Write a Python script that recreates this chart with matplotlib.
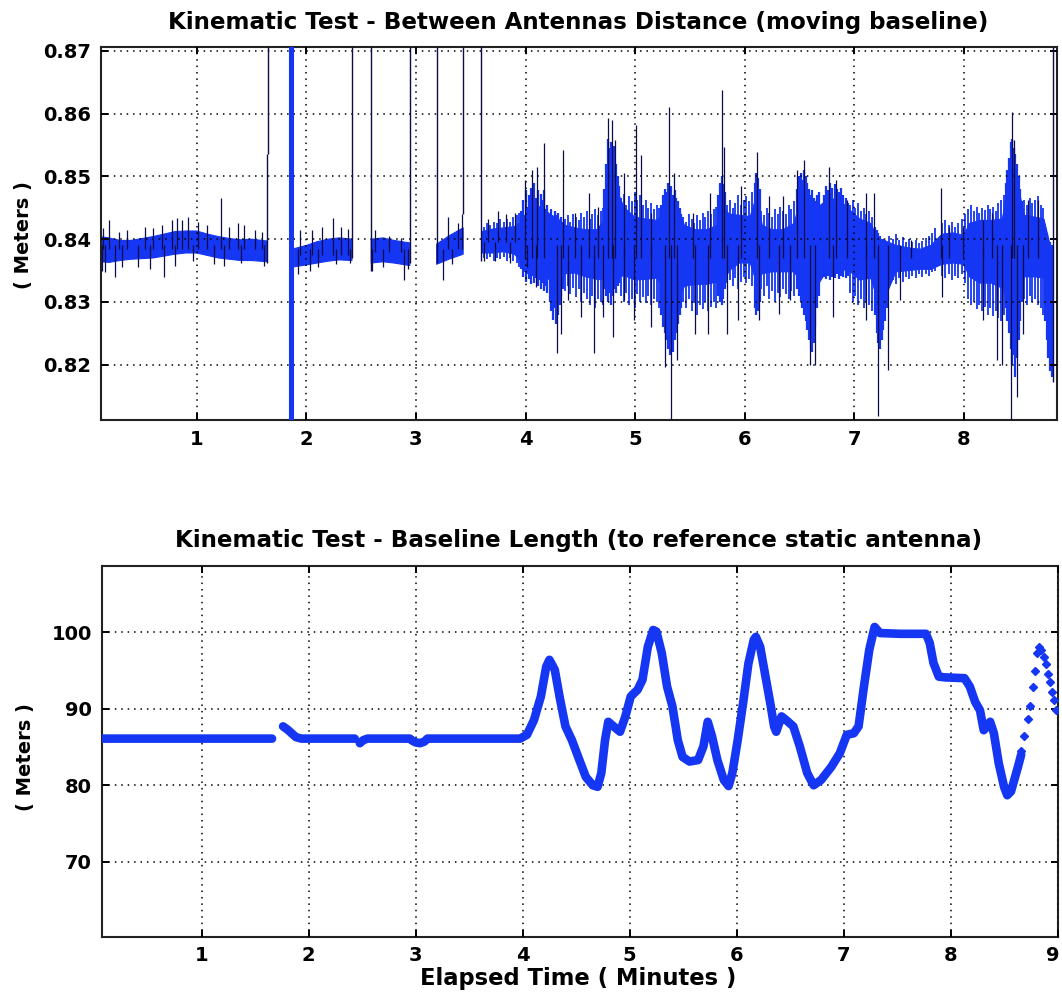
import numpy as np
import matplotlib
matplotlib.use("Agg")
import matplotlib.pyplot as plt
import matplotlib.transforms as mtransforms

plt.rcParams['font.family'] = ['DejaVu Sans']
plt.rcParams['font.weight'] = 'bold'

nan = np.nan

# ---------------- top panel: distance between the two antennas ----------------
# solid core of the noisy trace: lower / upper edge over time (NaN = no solution)
dist_t = [0.12, 0.2, 0.3, 0.4, 0.5, 0.6, 0.7, 0.8, 0.9, 1.0, 1.1, 1.2, 1.3, 1.4, 1.5, 1.645, nan,
          1.89, 2.0, 2.1, 2.2, 2.3, 2.416, nan,
          2.592, 2.7, 2.8, 2.944, nan,
          3.189, 3.3, 3.431, nan,
          3.6, 3.7, 3.8, 3.9, 3.97, 4.05, 4.15, 4.22, 4.3, 4.36, 4.45, 4.55, 4.65, 4.72, 4.78,
          4.83, 4.9, 5.0, 5.1, 5.2, 5.27, 5.33, 5.4, 5.45, 5.55, 5.65, 5.75, 5.8, 5.86, 5.95,
          6.05, 6.11, 6.16, 6.25, 6.35, 6.45, 6.52, 6.6, 6.66, 6.75, 6.85, 6.95, 7.05, 7.15,
          7.22, 7.3, 7.38, 7.5, 7.6, 7.7, 7.8, 7.9, 8.0, 8.05, 8.15, 8.25, 8.35, 8.4, 8.45,
          8.5, 8.55, 8.65, 8.73, 8.78, 8.815]
dist_lo = [0.8364, 0.8363, 0.8366, 0.8368, 0.8369, 0.8370, 0.8373, 0.8376, 0.8378, 0.8378, 0.8374,
           0.8370, 0.8368, 0.8366, 0.8366, 0.8364, nan,
           0.8356, 0.8359, 0.8362, 0.8365, 0.8367, 0.8366, nan,
           0.8362, 0.8364, 0.8362, 0.8358, nan,
           0.8360, 0.8368, 0.8376, nan,
           0.8378, 0.8378, 0.8380, 0.8376, 0.8362, 0.8352, 0.8345, 0.8335, 0.8330, 0.8345, 0.8346,
           0.8340, 0.8336, 0.8335, 0.8335, 0.8338, 0.8342, 0.8335, 0.8336, 0.8338, 0.8320, 0.8295,
           0.8305, 0.8325, 0.8328, 0.8328, 0.8332, 0.8330, 0.8350, 0.8362, 0.8362, 0.8330, 0.8345,
           0.8348, 0.8348, 0.8348, 0.8330, 0.8300, 0.8325, 0.8350, 0.8352, 0.8350, 0.8335, 0.8338,
           0.8300, 0.8315, 0.8348, 0.8350, 0.8352, 0.8352, 0.8360, 0.8362, 0.8360, 0.8340, 0.8330,
           0.8330, 0.8322, 0.8300, 0.8280, 0.8300, 0.8340, 0.8340, 0.8338, 0.8290, 0.8250]
dist_hi = [0.8404, 0.8402, 0.8398, 0.8398, 0.8401, 0.8404, 0.8408, 0.8412, 0.8413, 0.8413, 0.8408,
           0.8404, 0.8401, 0.8399, 0.8400, 0.8397, nan,
           0.8385, 0.8390, 0.8396, 0.8400, 0.8402, 0.8400, nan,
           0.8400, 0.8402, 0.8398, 0.8394, nan,
           0.8392, 0.8405, 0.8418, nan,
           0.8412, 0.8416, 0.8418, 0.8420, 0.8428, 0.8450, 0.8452, 0.8440, 0.8432, 0.8422, 0.8418,
           0.8415, 0.8415, 0.8430, 0.8490, 0.8480, 0.8450, 0.8435, 0.8432, 0.8430, 0.8440, 0.8455,
           0.8448, 0.8422, 0.8415, 0.8415, 0.8422, 0.8450, 0.8440, 0.8438, 0.8436, 0.8470, 0.8422,
           0.8415, 0.8415, 0.8425, 0.8470, 0.8468, 0.8450, 0.8462, 0.8465, 0.8448, 0.8432, 0.8425,
           0.8398, 0.8396, 0.8390, 0.8386, 0.8384, 0.8390, 0.8408, 0.8410, 0.8406, 0.8425, 0.8430,
           0.8430, 0.8432, 0.8480, 0.8520, 0.8480, 0.8438, 0.8435, 0.8432, 0.8395, 0.8380]

# bursts of larger scatter: blue needles around the core
burst_t = [3.96, 3.975, 3.99, 4.005, 4.02, 4.035, 4.05, 4.065, 4.08, 4.095, 4.11, 4.125, 4.14,
           4.155, 4.17, 4.185, 4.2,
           4.22, 4.235, 4.25, 4.265, 4.28, 4.295, 4.31, 4.325, 4.34,
           4.72, 4.735, 4.75, 4.765, 4.78, 4.795, 4.81, 4.825, 4.84, 4.855,
           5.24, 5.255, 5.27, 5.285, 5.30, 5.315, 5.33, 5.345, 5.36, 5.375, 5.39, 5.405, 5.42,
           5.76, 5.775, 5.79, 5.805, 5.82,
           6.09, 6.105, 6.12, 6.135,
           6.48, 6.495, 6.51, 6.525, 6.54, 6.555, 6.57, 6.585, 6.60, 6.615, 6.63, 6.645, 6.66, 6.675,
           6.72, 6.74, 6.76, 6.78, 6.80, 6.82, 6.84, 6.86, 6.88, 6.90, 6.92, 6.94,
           7.19, 7.205, 7.22, 7.235, 7.25, 7.265, 7.28, 7.295,
           8.38, 8.395, 8.41, 8.425, 8.44, 8.455, 8.47, 8.485, 8.50, 8.515, 8.53,
           8.74, 8.755, 8.77, 8.785, 8.80]
burst_lo = [0.8352, 0.8340, 0.8348, 0.8332, 0.8345, 0.8336, 0.8328, 0.8342, 0.8330, 0.8338, 0.8325,
            0.8335, 0.8320, 0.8330, 0.8318, 0.8325, 0.8315,
            0.8300, 0.8285, 0.8272, 0.8290, 0.8265, 0.8280, 0.8295, 0.8310, 0.8320,
            0.8320, 0.8310, 0.8300, 0.8315, 0.8295, 0.8310, 0.8320, 0.8315, 0.8325, 0.8330,
            0.8280, 0.8260, 0.8250, 0.8240, 0.8225, 0.8215, 0.8230, 0.8220, 0.8240, 0.8250, 0.8265,
            0.8280, 0.8290,
            0.8310, 0.8300, 0.8295, 0.8305, 0.8320,
            0.8290, 0.8280, 0.8285, 0.8300,
            0.8320, 0.8310, 0.8300, 0.8290, 0.8280, 0.8270, 0.8255, 0.8240, 0.8225, 0.8220, 0.8235,
            0.8260, 0.8290, 0.8310,
            0.8340, 0.8336, 0.8342, 0.8335, 0.8340, 0.8338, 0.8344, 0.8336, 0.8342, 0.8340, 0.8338,
            0.8342,
            0.8280, 0.8250, 0.8235, 0.8225, 0.8240, 0.8255, 0.8270, 0.8290,
            0.8290, 0.8270, 0.8250, 0.8225, 0.8200, 0.8215, 0.8180, 0.8210, 0.8240, 0.8270, 0.8300,
            0.8270, 0.8240, 0.8210, 0.8190, 0.8180]
burst_hi = [0.8445, 0.8462, 0.8438, 0.8478, 0.8452, 0.8470, 0.8482, 0.8458, 0.8490, 0.8466, 0.8478,
            0.8450, 0.8472, 0.8462, 0.8478, 0.8448, 0.8455,
            0.8440, 0.8448, 0.8435, 0.8445, 0.8438, 0.8442, 0.8430, 0.8435, 0.8428,
            0.8480, 0.8520, 0.8560, 0.8545, 0.8555, 0.8530, 0.8548, 0.8520, 0.8500, 0.8485,
            0.8455, 0.8470, 0.8480, 0.8475, 0.8490, 0.8478, 0.8485, 0.8470, 0.8478, 0.8465, 0.8460,
            0.8450, 0.8440,
            0.8470, 0.8490, 0.8500, 0.8488, 0.8475,
            0.8490, 0.8505, 0.8498, 0.8480,
            0.8480, 0.8500, 0.8505, 0.8495, 0.8510, 0.8500, 0.8490, 0.8480, 0.8470, 0.8478, 0.8465,
            0.8460, 0.8470, 0.8475,
            0.8470, 0.8485, 0.8478, 0.8490, 0.8482, 0.8488, 0.8480, 0.8475, 0.8482, 0.8470, 0.8465,
            0.8458,
            0.8420, 0.8415, 0.8410, 0.8405, 0.8400, 0.8400, 0.8398, 0.8396,
            0.8490, 0.8510, 0.8530, 0.8555, 0.8560, 0.8545, 0.8535, 0.8520, 0.8500, 0.8480, 0.8460,
            0.8420, 0.8410, 0.8400, 0.8395, 0.8390]

# ordinary scatter between the bursts: shorter blue needles
scat_t = [3.62, 3.65, 3.68, 3.71, 3.74, 3.77, 3.80, 3.83, 3.86, 3.89, 3.92, 3.945,
          4.36, 4.385, 4.41, 4.435, 4.46, 4.485, 4.51, 4.535, 4.56, 4.585, 4.61, 4.635, 4.66, 4.685,
          4.71,
          4.87, 4.895, 4.92, 4.945, 4.97, 4.995, 5.02, 5.045, 5.07, 5.095, 5.12, 5.145, 5.17, 5.195,
          5.22,
          5.44, 5.465, 5.49, 5.515, 5.54, 5.565, 5.59, 5.615, 5.64, 5.665, 5.69, 5.715, 5.74,
          5.84, 5.865, 5.89, 5.915, 5.94, 5.965, 5.99, 6.015, 6.04, 6.065,
          6.15, 6.175, 6.20, 6.225, 6.25, 6.275, 6.30, 6.325, 6.35, 6.375, 6.40, 6.425, 6.45,
          6.96, 6.985, 7.01, 7.035, 7.06, 7.085, 7.11, 7.135, 7.16,
          7.32, 7.35, 7.38, 7.41, 7.44, 7.47, 7.50, 7.53, 7.56, 7.59, 7.62, 7.65, 7.68, 7.71, 7.74,
          7.80, 7.83, 7.86, 7.89, 7.92, 7.95, 7.98, 8.01,
          8.04, 8.065, 8.09, 8.115, 8.14, 8.165, 8.19, 8.215, 8.24, 8.265, 8.29, 8.315, 8.34, 8.365,
          8.55, 8.575, 8.60, 8.625, 8.65, 8.675, 8.70, 8.725]
scat_lo = [0.8370, 0.8368, 0.8372, 0.8366, 0.8370, 0.8368, 0.8372, 0.8366, 0.8370, 0.8365, 0.8362,
           0.8355,
           0.8318, 0.8325, 0.8312, 0.8322, 0.8308, 0.8320, 0.8300, 0.8315, 0.8305, 0.8295, 0.8310,
           0.8290, 0.8305, 0.8300, 0.8295,
           0.8310, 0.8300, 0.8315, 0.8295, 0.8305, 0.8290, 0.8312, 0.8300, 0.8308, 0.8298, 0.8310,
           0.8295, 0.8305, 0.8300, 0.8290,
           0.8300, 0.8290, 0.8305, 0.8285, 0.8298, 0.8280, 0.8295, 0.8288, 0.8300, 0.8285, 0.8292,
           0.8300, 0.8290,
           0.8330, 0.8335, 0.8325, 0.8338, 0.8320, 0.8332, 0.8340, 0.8330, 0.8336, 0.8325,
           0.8320, 0.8310, 0.8325, 0.8305, 0.8318, 0.8300, 0.8315, 0.8308, 0.8320, 0.8312, 0.8305,
           0.8318, 0.8310,
           0.8315, 0.8300, 0.8310, 0.8295, 0.8305, 0.8290, 0.8300, 0.8295, 0.8285,
           0.8330, 0.8335, 0.8328, 0.8338, 0.8332, 0.8340, 0.8336, 0.8342, 0.8338, 0.8344, 0.8340,
           0.8345, 0.8342, 0.8348, 0.8350,
           0.8342, 0.8338, 0.8345, 0.8335, 0.8342, 0.8338, 0.8345, 0.8330,
           0.8305, 0.8295, 0.8300, 0.8288, 0.8295, 0.8285, 0.8292, 0.8280, 0.8290, 0.8278, 0.8285,
           0.8275, 0.8270, 0.8280,
           0.8305, 0.8295, 0.8310, 0.8300, 0.8305, 0.8295, 0.8290, 0.8280]
scat_hi = [0.8420, 0.8425, 0.8422, 0.8428, 0.8425, 0.8432, 0.8428, 0.8432, 0.8428, 0.8435, 0.8438,
           0.8442,
           0.8432, 0.8438, 0.8428, 0.8440, 0.8435, 0.8430, 0.8442, 0.8436, 0.8445, 0.8432, 0.8440,
           0.8448, 0.8438, 0.8445, 0.8450,
           0.8465, 0.8472, 0.8455, 0.8468, 0.8460, 0.8475, 0.8462, 0.8470, 0.8455, 0.8462, 0.8450,
           0.8458, 0.8448, 0.8455, 0.8450,
           0.8435, 0.8428, 0.8440, 0.8432, 0.8425, 0.8438, 0.8430, 0.8442, 0.8435, 0.8445, 0.8440,
           0.8448, 0.8452,
           0.8455, 0.8462, 0.8450, 0.8458, 0.8470, 0.8455, 0.8462, 0.8468, 0.8460, 0.8475,
           0.8445, 0.8438, 0.8450, 0.8442, 0.8435, 0.8448, 0.8440, 0.8452, 0.8445, 0.8440, 0.8455,
           0.8448, 0.8460,
           0.8455, 0.8462, 0.8450, 0.8458, 0.8445, 0.8450, 0.8440, 0.8445, 0.8435,
           0.8405, 0.8400, 0.8408, 0.8398, 0.8403, 0.8396, 0.8400, 0.8395, 0.8398, 0.8394, 0.8397,
           0.8402, 0.8405, 0.8410, 0.8418,
           0.8425, 0.8430, 0.8422, 0.8428, 0.8420, 0.8426, 0.8432, 0.8440,
           0.8448, 0.8455, 0.8445, 0.8452, 0.8442, 0.8450, 0.8446, 0.8455, 0.8448, 0.8452, 0.8445,
           0.8458, 0.8462, 0.8470,
           0.8462, 0.8455, 0.8465, 0.8458, 0.8462, 0.8468, 0.8455, 0.8450]

# isolated outliers sticking out of the trace
spike_t = [0.148, 0.198, 0.289, 0.368, 0.525, 0.603, 0.682, 0.776, 0.823, 0.870, 0.917, 1.012,
           1.090, 1.219, 1.294, 1.373, 1.436, 1.530, 1.593,
           0.135, 0.166, 0.251, 0.320, 0.462, 0.575, 0.704, 0.800, 0.970, 1.155, 1.250, 1.400, 1.610,
           1.940, 2.050, 2.145, 2.246, 2.315, 2.380, 1.920, 2.030, 2.110, 2.270, 2.400,
           2.630, 2.750, 2.860, 2.600, 2.700, 2.890, 2.930,
           3.290, 3.380, 3.420, 3.250, 3.330,
           3.660, 3.750, 3.820, 3.900, 3.620, 3.720, 3.860,
           3.997, 4.060, 4.108, 4.171, 4.344, 4.455, 4.581, 4.660, 4.754, 4.786, 4.817, 4.896,
           5.006, 5.054, 5.148, 5.312, 5.353, 5.527, 5.684, 5.789, 5.810, 5.968, 6.110, 6.221,
           6.347, 6.473, 6.542, 6.772, 6.836, 6.930, 7.103, 7.182, 7.513, 7.791, 7.860, 7.987,
           8.176, 8.255, 8.434, 8.460, 8.586, 8.680,
           4.013, 4.092, 4.290, 4.322, 4.391, 4.502, 4.628, 4.707, 4.795, 4.896, 4.990, 5.148,
           5.274, 5.328, 5.385, 5.543, 5.669, 5.836, 5.937, 6.126, 6.315, 6.410, 6.599, 6.637,
           6.804, 7.103, 7.214, 7.309, 7.419, 7.797, 8.176, 8.302, 8.349, 8.428, 8.482, 8.538]
spike_lo = [0.8385] * 19 + \
           [0.8350, 0.8348, 0.8340, 0.8355, 0.8355, 0.8352, 0.8340, 0.8358, 0.8365, 0.8360, 0.8358,
            0.8362, 0.8357] + \
           [0.8375] * 6 + [0.8345, 0.8350, 0.8355, 0.8360, 0.8362] + \
           [0.8380] * 3 + [0.8350, 0.8355, 0.8335, 0.8352] + \
           [0.8385] * 3 + [0.8335, 0.8360] + \
           [0.8395] * 4 + [0.8365, 0.8365, 0.8362] + \
           [0.8370] * 42 + \
           [0.8356, 0.8324, 0.8218, 0.8249, 0.8303, 0.8276, 0.8218, 0.8276, 0.8244, 0.8303, 0.8271,
            0.8260, 0.8196, 0.8111, 0.8207, 0.8249, 0.8249, 0.8249, 0.8271, 0.8271, 0.8281, 0.8303,
            0.8199, 0.8199, 0.8276, 0.8271, 0.8119, 0.8191, 0.8303, 0.8308, 0.8271, 0.8207, 0.8199,
            0.8111, 0.8148, 0.8249]
spike_hi = [0.8418, 0.8430, 0.8412, 0.8415, 0.8420, 0.8418, 0.8422, 0.8430, 0.8434, 0.8430, 0.8436,
            0.8428, 0.8422, 0.8465, 0.8420, 0.8425, 0.8422, 0.8414, 0.8412] + \
           [0.8390] * 13 + \
           [0.8414, 0.8414, 0.8420, 0.8433, 0.8420, 0.8416] + [0.8385] * 5 + \
           [0.8414, 0.8405, 0.8402] + [0.8385] * 4 + \
           [0.8436, 0.8425, 0.8440] + [0.8385] * 2 + \
           [0.8432, 0.8445, 0.8440, 0.8442] + [0.8395] * 3 + \
           [0.8494, 0.8510, 0.8515, 0.8553, 0.8542, 0.8441, 0.8473, 0.8452, 0.8593, 0.8590, 0.8558,
            0.8505, 0.8582, 0.8534, 0.8441, 0.8611, 0.8505, 0.8441, 0.8473, 0.8638, 0.8547, 0.8484,
            0.8539, 0.8468, 0.8468, 0.8510, 0.8526, 0.8515, 0.8494, 0.8462, 0.8473, 0.8473, 0.8398,
            0.8481, 0.8420, 0.8420, 0.8430, 0.8441, 0.8603, 0.8558, 0.8462, 0.8462] + \
           [0.8390] * 36

# jumps of the trace to values far off the scale (lost / wrong fixes)
jump_t = [1.640, 1.655, 2.416, 2.592, 2.944, 3.189, 3.431, 3.597, 8.815]
jump_lo = [0.8362, 0.8536, 0.8370, 0.8350, 0.8362, 0.8362, 0.8440, 0.8365, 0.8172]
jump_hi = [0.8536, 0.8800, 0.8800, 0.8800, 0.8800, 0.8800, 0.8800, 0.8800, 0.8800]
# wrong fixes crossing the whole scale
cross_t = [1.848, 1.874]

# ---------------- bottom panel: baseline length to the static antenna ----------------
base_t = [0.05, 1.657, nan,
          1.76, 1.80, 1.84, 1.88, 1.93, 2.43, nan,
          2.478, 2.51, 2.55, 2.946, nan,
          2.96, 3.00, 3.04, 3.08, 3.11, 3.976, 4.04, 4.105, 4.17, 4.22, 4.25, 4.30, 4.35, 4.40,
          4.46, 4.53, 4.59, 4.655, 4.70, 4.735, 4.77, 4.80, 4.85, 4.91, 4.96, 5.01, 5.075, 5.12,
          5.17, 5.22, 5.25, 5.30, 5.35, 5.40, 5.45, 5.495, 5.56, 5.64, 5.69, 5.73, 5.77, 5.82,
          5.88, 5.925, 5.96, 6.01, 6.06, 6.11, 6.16, 6.18, 6.22, 6.27, 6.32, 6.35, 6.37, 6.42,
          6.465, 6.53, 6.59, 6.66, 6.72, 6.79, 6.885, 6.965, 7.03, 7.095, 7.14, 7.19, 7.24, 7.29,
          7.34, 7.53, 7.77, 7.805, 7.84, 7.89, 7.95, 8.13, 8.18, 8.23, 8.275, 8.31, 8.34, 8.37,
          8.405, 8.45, 8.50, 8.53, 8.565, 8.63, 8.66]
base_v = [86.1, 86.1, nan,
          87.7, 87.3, 86.8, 86.3, 86.1, 86.1, nan,
          85.5, 85.9, 86.1, 86.1, nan,
          85.9, 85.6, 85.5, 85.7, 86.1, 86.1, 86.6, 88.5, 91.6, 95.5, 96.4, 95.1, 91.2, 87.7,
          85.9, 83.3, 81.1, 80.0, 79.8, 81.6, 85.9, 88.3, 87.7, 87.0, 89.0, 91.6, 92.5, 93.8,
          98.1, 100.3, 100.1, 97.3, 92.9, 90.3, 85.9, 83.7, 83.1, 83.3, 85.1, 88.3, 86.4, 83.3,
          80.7, 79.9, 81.6, 85.9, 90.7, 95.9, 99.0, 99.4, 98.1, 94.2, 90.3, 87.7, 87.0, 89.0,
          88.5, 87.7, 85.1, 81.6, 80.0, 80.7, 82.4, 84.2, 86.6, 86.8, 87.7, 92.9, 97.7, 100.7,
          99.9, 99.8, 99.8, 98.6, 96.0, 94.2, 94.1, 94.0, 92.9, 90.9, 89.8, 87.2, 87.7, 88.3,
          86.8, 82.9, 79.8, 78.7, 79.2, 82.4, 84.0]
# last fast swing, where the individual fixes separate
tail_t = [8.66, 8.69, 8.72, 8.745, 8.77, 8.79, 8.81, 8.83, 8.85, 8.87, 8.89, 8.91, 8.93, 8.95,
          8.97, 8.99]
tail_v = [84.5, 86.4, 88.6, 90.3, 92.8, 95.0, 97.3, 98.1, 97.7, 96.8, 95.8, 94.5, 93.5, 92.2,
          91.1, 89.9]

top_ticks = [0.82, 0.83, 0.84, 0.85, 0.86, 0.87]
bot_ticks = [70, 80, 90, 100]
x_ticks_top = [1, 2, 3, 4, 5, 6, 7, 8]
x_ticks_bot = [1, 2, 3, 4, 5, 6, 7, 8, 9]

BLUE = '#1536f2'
DARK = '#0c0c48'

fig = plt.figure(figsize=(10.62, 9.96), dpi=100)
ax1 = fig.add_axes([0.0948, 0.5783, 0.9002, 0.3745])
ax2 = fig.add_axes([0.0958, 0.0595, 0.9000, 0.3725])


def style(ax, xt, yt, ylab_fmt):
    ax.set_xticks(xt)
    ax.set_yticks(yt)
    ax.set_yticklabels([ylab_fmt(v) for v in yt])
    ax.grid(True, color='black', linestyle=(0, (1, 3.2)), linewidth=1.1)
    ax.set_axisbelow(False)
    ax.tick_params(direction='in', length=5, width=1.4, top=True, right=True,
                   labelsize=14, pad=7, colors='black')
    for s in ax.spines.values():
        s.set_linewidth(1.5)
        s.set_color('#222222')
    for lab in ax.get_xticklabels() + ax.get_yticklabels():
        lab.set_fontweight('bold')


# top panel
ax1.fill_between(dist_t, dist_lo, dist_hi, color=BLUE, linewidth=0.8, edgecolor=BLUE, zorder=2)
ax1.vlines(scat_t, scat_lo, scat_hi, color=BLUE, linewidth=1.3, zorder=2)
ax1.vlines(burst_t, burst_lo, burst_hi, color=BLUE, linewidth=1.6, zorder=2)
ax1.vlines(spike_t, spike_lo, spike_hi, color=DARK, linewidth=0.9, zorder=3)
ax1.vlines(jump_t, jump_lo, jump_hi, color=DARK, linewidth=1.0, zorder=3)
ax1.vlines(cross_t, 0.80, 0.88, color=BLUE, linewidth=2.2, zorder=3)
ax1.set_xlim(0.124, 8.846)
ax1.set_ylim(0.8112, 0.8706)
style(ax1, x_ticks_top, top_ticks, lambda v: f"{v:.2f}")

# bottom panel
ax2.plot(base_t, base_v, color=BLUE, linewidth=6.2, solid_capstyle='round', zorder=3)
ax2.plot(tail_t, tail_v, linestyle='none', marker='D', markersize=4.5, color=BLUE, zorder=3)
ax2.set_xlim(0.065, 9.0)
ax2.set_ylim(60.2, 108.7)
style(ax2, x_ticks_bot, bot_ticks, lambda v: f"{v:d}")
# keep the last time label inside the figure
last = ax2.get_xticklabels()[-1]
last.set_transform(last.get_transform() +
                   mtransforms.ScaledTranslation(-5 / 100, 0, fig.dpi_scale_trans))

# titles and axis labels
fig.text(0.5449, 1 - 23 / 996, 'Kinematic Test - Between Antennas Distance (moving baseline)',
         ha='center', va='center', fontsize=16.6, fontweight='bold')
fig.text(0.5449, 1 - 540 / 996, 'Kinematic Test - Baseline Length (to reference static antenna)',
         ha='center', va='center', fontsize=16.6, fontweight='bold')
fig.text(24 / 1062, 1 - 235 / 996, '( Meters )', rotation=90, ha='center', va='center',
         fontsize=14, fontweight='bold')
fig.text(26 / 1062, 1 - 757 / 996, '( Meters )', rotation=90, ha='center', va='center',
         fontsize=14, fontweight='bold')
fig.text(0.5449, 1 - 978 / 996, 'Elapsed Time ( Minutes )', ha='center', va='center',
         fontsize=16.3, fontweight='bold')

fig.savefig('out.png', dpi=100, facecolor='white')
